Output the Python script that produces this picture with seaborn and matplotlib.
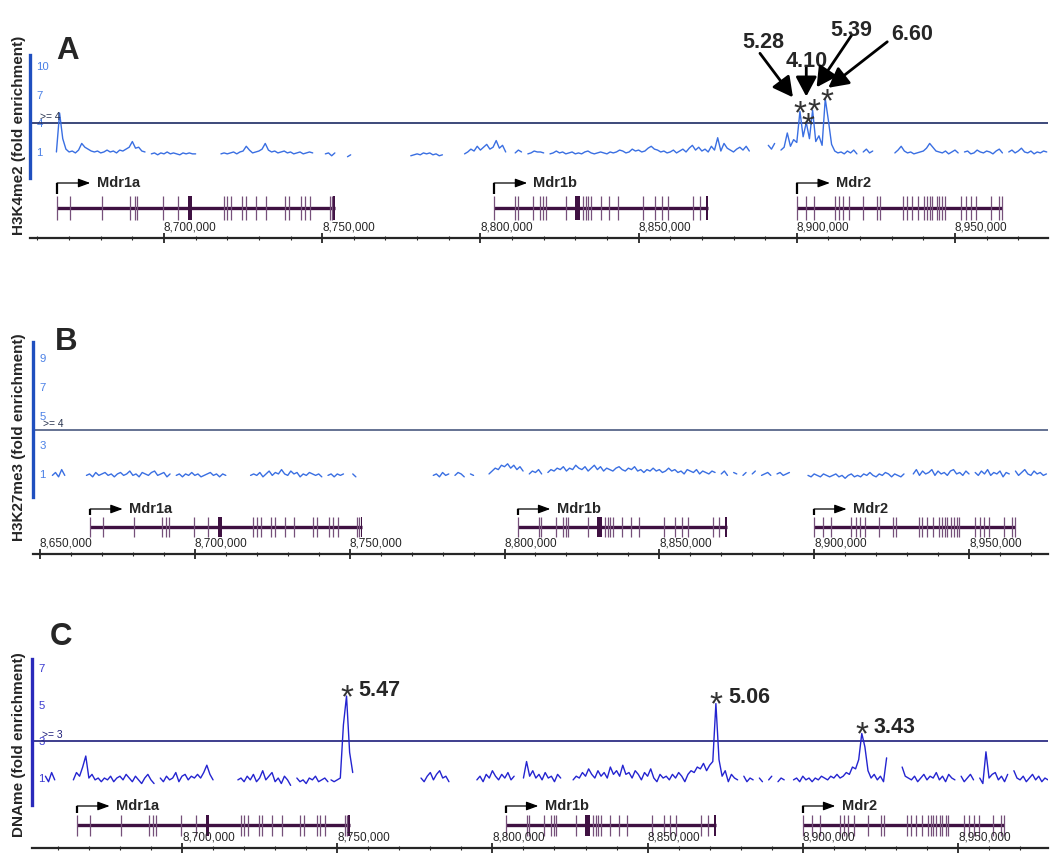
import numpy as np
import pandas as pd
import seaborn as sns
import matplotlib.pyplot as plt
from matplotlib import font_manager
from matplotlib.ticker import MultipleLocator, StrMethodFormatter
from matplotlib.transforms import ScaledTranslation

nan = np.nan

# ---------------- data ----------------
# tiling-array signal, one value per 1 kb probe: (first probe position, values); nan = missing probe
a_segments = [
    (8666000, [1.0, 5.1, 2.4, 1.3, 1.0, 1.1, 0.9, 1.2, 1.9, 1.5, 1.3, 1.1, 1.0, 1.1, 0.9,
               1.0, 1.2, 1.0, 1.1, 0.9, 1.2, 1.1, 1.3, 1.5, 2.1, 1.4, 1.5, 1.1, 1.0, nan,
               0.8, 0.9, 0.7, 0.9, 0.8, 1.0, 0.8, 0.9, 0.8, 0.7, 0.9, 0.8, 0.9, 0.8, 0.8]),
    (8718000, [0.8, 0.9, 0.8, 0.9, 1.0, 0.8, 1.0, 1.1, 1.6, 1.2, 0.9, 1.0, 1.1, 1.3, 1.9,
               1.2, 1.0, 1.1, 0.9, 1.0, 1.1, 0.9, 1.0, 0.8, 0.9, 1.0, 0.8, 0.9, 1.0, 0.9]),
    (8751000, [0.8, 0.9, 0.6, 0.9]),
    (8758000, [0.5, 0.7]),
    (8778000, [0.6, 0.7, 0.8, 0.7, 0.9, 0.8, 0.9, 0.7, 0.8, 0.6, 0.7]),
    (8795000, [0.8, 1.0, 1.3, 1.1, 1.6, 1.2, 1.5, 1.8, 1.3, 1.5, 2.2, 1.4, 1.7, 1.0,
               nan, nan, 0.9, 1.2, 1.0, nan, 0.8, 0.9, 1.1, 1.0,
               1.0, 0.9, nan, 0.8, 0.9, 1.1, 0.9, 1.0, 0.8, 0.9,
               1.0, 0.8, 0.9, 0.8, 1.0, 1.1, 0.9, 0.8, 0.9, 1.0,
               0.9, 0.8, 1.0, 0.9, 1.0, 1.2, 1.1, 0.9, 1.0, 1.3,
               1.1, 1.2, 1.0, 1.1, 1.4, 1.6, 1.3, 1.2, 1.0, 1.1,
               0.9, 1.0, 1.2, 0.9, 1.1, 1.3, 1.0, 1.4, 1.7, 1.2,
               1.5, 1.1, 1.3, 1.0, 1.6, 1.2, 2.5, 1.1, 1.9, 1.4,
               1.2, 1.0, 1.3, 1.5, 1.2, 1.6, 1.1, nan, nan, nan,
               nan, nan, 1.7, 1.3, 1.9]),
    (8895000, [1.2, 1.5, 3.0, 1.6, 2.3, 2.0, 5.28, 2.6, 4.10, 2.4, 5.39, 2.1, 2.7, 1.7, 6.60,
               4.3, 1.8, 1.1, 0.9, 1.0, 0.8, 1.1, 0.9, 1.2, 0.8, nan, 1.0, 1.3, 0.9, 1.1]),
    (8931000, [0.9, 1.2, 1.6, 1.1, 0.9, 1.0, 0.8, 0.9, 1.0, 1.1,
               1.4, 1.9, 1.5, 1.1, 1.0, 0.9, 1.1, 0.8, 1.0, 1.2,
               0.9, nan, 1.0, 1.1, 0.8, 0.9, 1.2, 1.0, 0.9, 1.1,
               1.0, 0.8, 1.1, 1.3, 0.9, nan, 1.0, 1.2, 0.9, 1.1,
               1.4, 1.0, 0.9, 1.1, 0.8, 1.0, 0.9, 1.1, 1.0]),
]

b_segments = [
    (8654000, [0.9, 1.1, 0.8, 1.3, 0.9]),
    (8665000, [0.9, 1.0, 0.8, 1.1, 0.9, 1.0, 1.1, 0.9, 1.0, 0.8, 1.0, 1.1, 0.9, 1.0, 1.2,
               0.9, 1.0, 0.8, 1.1, 1.0, 0.9, 1.1, 1.2, 0.9, 1.0, 1.1, 0.8, 1.0, nan, 0.9,
               1.0, 0.8, 1.0, 0.9, 1.1, 0.9, 1.0, 0.8, 0.9, 1.0, 1.1, 0.9, 1.0, 0.8, 1.0, 0.9]),
    (8718000, [0.9, 1.0, 0.9, 1.1, 0.8, 1.0, 1.2, 0.9, 1.1, 1.0, 1.3, 1.0, 0.9, 1.2, 1.0, 1.1,
               0.8, 1.0, 0.9, 1.1, 1.0, 0.9, 1.0, 0.8, nan, 0.9, 1.0, 0.8, 1.0, 0.9, 1.0]),
    (8751000, [1.0, 0.8, nan, 0.7]),
    (8777000, [0.9, 1.0, 0.8, 1.1, 0.9, 1.0, nan, 0.9, 1.1, 1.0, 0.8, nan, 1.0, 0.9]),
    (8795000, [1.0, 1.2, 1.4, 1.3, 1.6, 1.5, 1.7, 1.4, 1.6, 1.3,
               1.5, 1.2, nan, 1.0, 1.2, 1.1, 1.3, 1.0, nan, 1.1,
               1.3, 1.2, 1.4, 1.3, 1.5, 1.2, 1.4, 1.3, 1.6, 1.4,
               1.3, 1.5, 1.2, 1.4, 1.6, 1.3, 1.5, 1.2, 1.4, 1.3,
               1.2, 1.4, 1.5, 1.3, 1.2, 1.4, 1.3, 1.5, 1.2, 1.3,
               1.1, 1.3, 1.2, 1.4, 1.2, 1.3, 1.1, 1.2, 1.4, 1.2,
               1.3, 1.1, 1.2, 1.0, 1.3, 1.2, 1.1, 1.3, 1.0, 1.2,
               1.1, 1.0, 1.2, 1.1, nan, 1.0, 1.2, 0.9, nan, 1.1,
               1.0, nan, 0.9, 1.1, nan, 1.0, 1.2, nan, 0.9, 1.0,
               1.1, 0.9, nan, 1.0, 1.1, 0.9, 1.0, 1.1, nan, 0.9]),
    (8898000, [0.9, 0.8, 1.0, 0.9, 0.8, 1.0, 0.9, 0.8, 0.9, 1.0, 0.8, 0.9, 0.7, 0.9, 1.0, 0.8,
               0.9, 0.8, 1.0, 0.9, 1.1, 0.9, 0.8, 1.0, 0.9, 1.1, 1.0, 0.8, 1.0, 0.9, 0.8, 1.0]),
    (8932000, [1.0, 1.3, 0.9, 1.2, 1.0, 1.1, 1.3, 0.9, 1.2, 1.0, 1.1, 0.9, 1.2, 1.3, 1.0,
               1.1, 0.9, 1.2, 1.0, nan, 1.1, 0.9, 1.2, 1.0, 1.3, 0.9, 1.1, 1.0, 1.2, 0.8,
               1.1, 1.0, nan, 1.2, 0.9, 1.1, 1.3, 1.0, 0.9, 1.2, 1.0, 1.1, 0.9, 1.0]),
]

c_segments = [
    (8656000, [1.1, 0.8, 1.3, 0.9]),
    (8665000, [0.9, 1.3, 1.1, 1.6, 2.2, 1.0, 1.2, 0.9, 1.0, 0.8, 1.0, 0.9, 1.1, 0.8, 1.0,
               1.1, 0.9, 1.2, 1.0, 0.8, 1.1, 0.9, 0.7, 1.0, 1.2, 0.9, 0.7, nan, 1.0, 0.8,
               1.1, 0.9, 1.0, 1.3, 0.8, 1.1, 1.2, 0.9, 1.1, 1.0, 1.2, 1.0, 1.3, 1.7, 1.2, 0.9]),
    (8718000, [0.9, 1.0, 0.8, 1.1, 0.9, 1.2, 0.8, 1.0, 1.4, 0.9, 1.1, 1.3, 0.8, 1.0, 0.7,
               1.1, 0.9, 0.6, nan, 1.0, 0.8, 0.9, 0.7, 1.0, 0.9, 1.1, 0.8, 0.9, 1.0, 0.8]),
    (8748000, [0.9, 0.8, 0.9, 1.0, 3.9, 5.47, 2.4, 1.3]),
    (8777000, [1.0, 0.8, 1.1, 1.3, 0.9, 1.2, 1.4, 1.0, 1.1, 0.8]),
    (8795000, [0.9, 1.1, 0.8, 1.2, 1.0, 1.4, 1.1, 0.9, 1.2, 1.0,
               1.3, 0.9, 1.1, nan, nan, 1.0, 1.9, 1.1, 1.4, 1.0,
               1.2, 0.9, 1.3, 1.0, 1.1, 0.8, 1.2, 1.0, nan, nan,
               nan, 0.9, 1.1, 1.0, 1.3, 1.1, 1.5, 1.2, 1.0, 1.4,
               1.1, 1.3, 1.0, 1.6, 1.2, 1.4, 1.1, 1.7, 1.2, 1.3,
               1.0, 1.4, 1.2, 0.9, 1.3, 1.1, 1.5, 1.0, 0.8, 1.2,
               1.0, 1.1, 0.9, 1.2, 1.0, 1.3, 1.1, 0.8, 1.2, 1.4,
               1.3, 1.6, 1.5, 1.8, 1.4, 1.7, 1.9, 5.06, 2.0, 1.1,
               1.4, 0.8, 1.2, 1.0, 0.9, nan, 1.1, 0.8, 1.0, 0.9,
               nan, 1.0, 0.8, nan, 0.9, 1.1, nan, 0.8, 1.0, 0.9]),
    (8897000, [0.9, 1.0, 0.8, 1.1, 0.9, 1.0, 0.8, 1.0, 0.9, 1.1,
               1.0, 0.9, 1.1, 1.0, 1.2, 1.0, 1.1, 1.3, 1.2, 1.6,
               1.5, 2.0, 3.43, 2.7, 1.4, 1.0, 1.2, 0.9, 1.1, 0.8, 2.1]),
    (8932000, [1.6, 1.1, 1.0, 0.9, 1.1, 0.8, 1.0, 1.2, 0.9, 1.1,
               1.0, 1.3, 0.9, 1.1, 0.8, 1.2, 1.0, 0.9, nan, 1.1,
               0.8, 1.0, 1.2, 0.9, nan, 1.0, 0.7, 2.43, 1.0, 1.2,
               1.3, 0.9, 1.1, 0.8, 1.2, nan, 1.4, 1.0, 0.9, 1.1,
               0.8, 1.0, 1.2, 0.9, 1.1, 0.8, 1.0, 0.9]),
]

# labelled peaks
a_peak_pos = [8901000, 8903000, 8905000, 8909000]
a_peak_val = [5.28, 4.10, 5.39, 6.60]
a_peak_txt = ['5.28', '4.10', '5.39', '6.60']
c_peak_pos = [8753000, 8872000, 8919000]
c_peak_val = [5.47, 5.06, 3.43]
c_peak_txt = ['5.47', '5.06', '3.43']

# genes (bp)
gene_names = ['Mdr1a', 'Mdr1b', 'Mdr2']
gene_spans = [(8666200, 8754100), (8804300, 8872000), (8899970, 8964800)]
gene_exons = [
    [8666200, 8670200, 8680400, 8689300, 8690700, 8691600, 8699800, 8704400, 8718900,
     8720000, 8721300, 8724700, 8725900, 8729000, 8732100, 8738100, 8739400, 8743400,
     8744500, 8746100, 8752400, 8753000],
    [8804300, 8811000, 8811900, 8816500, 8818800, 8819700, 8820600, 8827050, 8832300,
     8833300, 8834100, 8834900, 8838000, 8840700, 8843400, 8851500, 8855200, 8857300,
     8859200, 8867300, 8869400],
    [8899970, 8902900, 8905500, 8912000, 8913400, 8914700, 8916500, 8921000, 8925300,
     8926300, 8933700, 8934900, 8936500, 8938400, 8940200, 8941200, 8942100, 8942800,
     8944200, 8945000, 8946000, 8946800, 8951900, 8953400, 8955000, 8956600, 8961400,
     8964000, 8964800],
]
gene_blocks = [
    [(8707600, 8708800), (8753500, 8754100)],
    [(8829900, 8831500), (8871300, 8872000)],
    [],
]

# ---------------- style ----------------
W, H = 1050, 868
sns.set_style('white')
installed = {f.name for f in font_manager.fontManager.ttflist}
BASE = 'Liberation Sans' if 'Liberation Sans' in installed else 'DejaVu Sans'
NARROW = 'Liberation Sans Narrow' if 'Liberation Sans Narrow' in installed else BASE
NARROW_SCALE = 1.0 if NARROW != BASE else 0.82
plt.rcParams['font.family'] = [BASE, 'DejaVu Sans']

GENE_DARK = '#3f1142'
GENE_LIGHT = '#76507a'
STAR_SIZE = 24

panels = [
    dict(letter='A', letter_xy=(68, 51), title='H3K4me2 (fold enrichment)', title_y=135,
         left=30, xlim=(8657650, 8979400), bar_top=55, bar_bottom=178, ylim=(-1.74, 11.21),
         yticks=list(range(1, 11)), ylabels=[10, 7, 4, 1], thresh=4,
         gene_y=208, exon_h=12, arrow_y=183, ruler_y=238, segments=a_segments,
         sig='#3a6fe2', bar='#1f4fbf', tick='#4a80e6', line='#1b2a63', tlab='#2a3550'),
    dict(letter='B', letter_xy=(66, 342), title='H3K27me3 (fold enrichment)', title_y=437,
         left=33, xlim=(8647740, 8975510), bar_top=342, bar_bottom=497, ylim=(-0.59, 10.1),
         yticks=list(range(1, 10)), ylabels=[9, 7, 5, 3, 1], thresh=4,
         gene_y=527, exon_h=10, arrow_y=509, ruler_y=554, segments=b_segments,
         sig='#3a6fe2', bar='#1f4fbf', tick='#4a80e6', line='#4a5a80', tlab='#2a3550'),
    dict(letter='C', letter_xy=(61, 637), title='DNAme (fold enrichment)', title_y=745,
         left=32, xlim=(8651675, 8978990), bar_top=659, bar_bottom=805, ylim=(-0.47, 7.49),
         yticks=list(range(1, 8)), ylabels=[7, 5, 3, 1], thresh=3,
         gene_y=825, exon_h=10.5, arrow_y=806, ruler_y=848, segments=c_segments,
         sig='#2424d0', bar='#2a2abb', tick='#3a3ad0', line='#1e1e7a', tlab='#1e1e7a'),
]
RIGHT = 1048

fig = plt.figure(figsize=(W / 100, H / 100), dpi=100, facecolor='white')


def fx(px):
    return px / W


def fy(py):
    return 1 - py / H


def shifted(ax, dx, dy):
    # data coordinates moved by (dx, dy) pixels, dy upwards
    return ax.transData + ScaledTranslation(dx / 100, dy / 100, fig.dpi_scale_trans)


def to_frame(segments):
    rows = []
    for k, (start, vals) in enumerate(segments):
        for i, v in enumerate(vals):
            rows.append((start + 1000 * i, v, k))
    df = pd.DataFrame(rows, columns=['pos', 'val', 'seg'])
    # every missing probe starts a new piece of line
    df['piece'] = df['seg'] + df['val'].isna().cumsum()
    return df.dropna()


def draw_panel(p):
    left = p['left']
    width = (RIGHT - left) / W

    # signal track
    ax = fig.add_axes([fx(left), fy(p['bar_bottom']), width, (p['bar_bottom'] - p['bar_top']) / H])
    ax.patch.set_alpha(0)
    sns.lineplot(data=to_frame(p['segments']), x='pos', y='val', units='piece', estimator=None,
                 color=p['sig'], lw=1.0, ax=ax, legend=False)
    ax.set_xlim(p['xlim'])
    ax.set_ylim(p['ylim'])
    ax.axhline(p['thresh'], color=p['line'], lw=1.2, zorder=1)
    for s in ['top', 'right', 'bottom']:
        ax.spines[s].set_visible(False)
    ax.spines['left'].set_color(p['bar'])
    ax.spines['left'].set_linewidth(2.4)
    ax.set_xticks([])
    ax.set_yticks(p['yticks'])
    ax.set_yticklabels([str(t) if t in p['ylabels'] else '' for t in p['yticks']])
    ax.tick_params(axis='y', direction='in', length=4, width=1.1, color=p['bar'],
                   labelcolor=p['tick'], labelsize=10 * NARROW_SCALE, pad=-4.5)
    for lab in ax.get_yticklabels():
        lab.set_ha('left')
        lab.set_fontfamily(NARROW)
    ax.set_xlabel('')
    ax.set_ylabel('')
    ax.annotate(f">= {p['thresh']}", xy=(0, p['thresh']), xycoords=('axes fraction', 'data'),
                xytext=(7, 1), textcoords='offset points', ha='left', va='bottom',
                fontsize=9 * NARROW_SCALE, family=NARROW, color=p['tlab'])

    # gene track, y in pixel rows
    axg = fig.add_axes([fx(left), fy(p['ruler_y']), width, (p['ruler_y'] - p['bar_bottom']) / H])
    axg.set_xlim(p['xlim'])
    axg.set_ylim(p['ruler_y'], p['bar_bottom'])
    axg.axis('off')
    gy, h, ay = p['gene_y'], p['exon_h'], p['arrow_y']
    for name, (s, e), exons, blocks in zip(gene_names, gene_spans, gene_exons, gene_blocks):
        axg.hlines(gy, s, e, color=GENE_DARK, lw=2.4)
        axg.vlines(exons, gy - h, gy + h, color=GENE_LIGHT, lw=0.9)
        for b0, b1 in blocks:
            axg.fill_between([b0, b1], gy - h, gy + h, color=GENE_DARK, lw=0)
        axg.plot([s, s], [gy - h - 2, ay], color='black', lw=1.6, clip_on=False,
                 solid_capstyle='butt')
        axg.annotate('', xy=(s + 10500, ay), xytext=(s, ay),
                     arrowprops=dict(arrowstyle='-|>,head_length=0.6,head_width=0.22',
                                     color='black', lw=0.9, mutation_scale=12,
                                     shrinkA=0, shrinkB=0))
        axg.annotate(name, xy=(s + 10500, ay), xytext=(4.5, 0), textcoords='offset points',
                     ha='left', va='center', fontsize=10.5, fontweight='bold')

    # coordinate ruler, labels above the line
    axr = fig.add_axes([fx(left), fy(p['ruler_y']) - 0.0002, width, 0.0002])
    axr.set_xlim(p['xlim'])
    for s in ['left', 'right', 'bottom']:
        axr.spines[s].set_visible(False)
    axr.spines['top'].set_linewidth(1.6)
    axr.set_yticks([])
    axr.xaxis.set_major_locator(MultipleLocator(50000))
    axr.xaxis.set_minor_locator(MultipleLocator(10000))
    axr.xaxis.set_major_formatter(StrMethodFormatter('{x:,.0f}'))
    axr.tick_params(axis='x', which='both', top=True, bottom=False, labeltop=True,
                    labelbottom=False, direction='inout')
    axr.tick_params(axis='x', which='major', length=7, width=1.3, pad=0,
                    labelsize=10.3 * NARROW_SCALE, labelfontfamily=NARROW)
    axr.tick_params(axis='x', which='minor', length=3.5, width=0.8)
    plt.setp(axr.get_xticklabels(), ha='left')

    fig.text(fx(19), fy(p['title_y']), p['title'], rotation=90, ha='center', va='center',
             fontsize=11, fontweight='bold')
    lx, ly = p['letter_xy']
    fig.text(fx(lx), fy(ly), p['letter'], ha='center', va='center', fontsize=22.5,
             fontweight='bold')
    return ax


def star(ax, pos, val, dx, dy):
    # dy = height of the star centre above the peak, in pixels
    lift = 0.567 * STAR_SIZE * 100 / 72
    ax.annotate('*', xy=(pos, val), xytext=(dx * 0.72, (dy - lift) * 0.72),
                textcoords='offset points', ha='center', va='baseline', fontsize=STAR_SIZE,
                color='#333333', annotation_clip=False)


axes = [draw_panel(p) for p in panels]

# panel A: arrows from the values to the starred peaks (offsets in pixels)
ax = axes[0]
text_off = [(-37, 71), (0, 63), (39, 82), (87, 66)]
tail_off = [(-40, 58), (0, 56), (39, 75), (62, 57)]
head_off = [(-7, 14), (0, 26), (4, 23), (3, 11)]
star_off = [(0, 7), (2, 6), (1, 8), (2, 6)]
for pos, val, txt, to, ta, hd, so in zip(a_peak_pos, a_peak_val, a_peak_txt,
                                         text_off, tail_off, head_off, star_off):
    ax.annotate('', xy=(pos, val), xycoords=shifted(ax, *hd),
                xytext=(pos, val), textcoords=shifted(ax, *ta),
                arrowprops=dict(arrowstyle='-|>,head_length=0.75,head_width=0.4',
                                color='black', lw=2.0, mutation_scale=16,
                                shrinkA=0, shrinkB=0), annotation_clip=False)
    ax.annotate(txt, xy=(pos, val), xytext=(to[0] * 0.72, (to[1] - 2) * 0.72),
                textcoords='offset points', ha='center', va='center', fontsize=15.5,
                fontweight='bold', annotation_clip=False)
    star(ax, pos, val, *so)

# panel C: star and value next to each peak
ax = axes[2]
for pos, val, txt in zip(c_peak_pos, c_peak_val, c_peak_txt):
    star(ax, pos, val, 0, 8)
    ax.annotate(txt, xy=(pos, val), xytext=(12 * 0.72, 6 * 0.72), textcoords='offset points',
                ha='left', va='center', fontsize=15.5, fontweight='bold', annotation_clip=False)

fig.savefig('out.png', dpi=100, facecolor='white')
